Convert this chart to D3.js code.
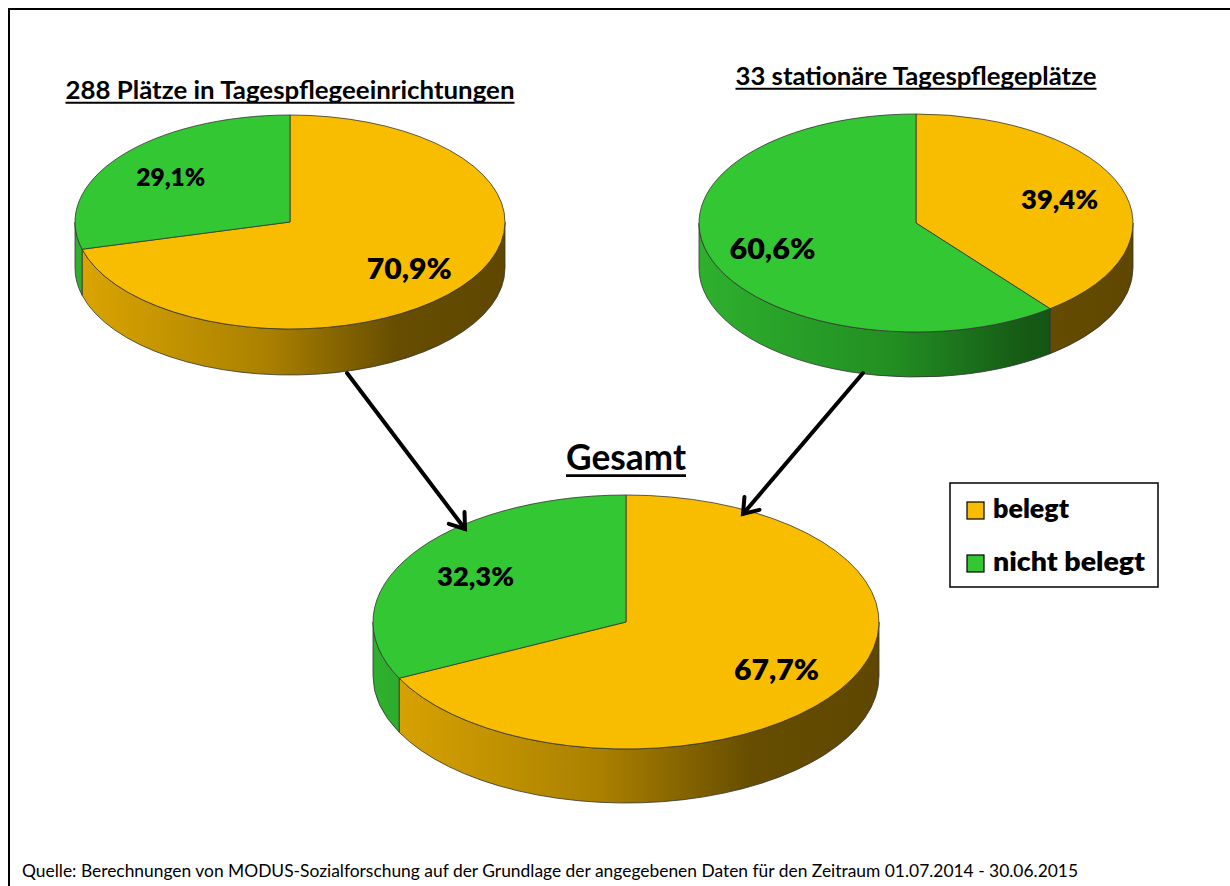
<!DOCTYPE html>
<html lang="de">
<head>
<meta charset="UTF-8">
<title>Belegung Tagespflege</title>
<script src="https://d3js.org/d3.v7.min.js"></script>
<style>
  body { margin: 0; background: #fff; }
  svg text { font-family: Lato, "Open Sans", sans-serif; fill: #000; }
</style>
</head>
<body>
<div id="chart"></div>
<script>
// --- data ---
const categories = ["belegt", "nicht belegt"];
const pieTitles = ["288 Plätze in Tagespflegeeinrichtungen", "33 stationäre Tagespflegeplätze", "Gesamt"];
const valuesEinrichtungen = [70.9, 29.1];
const valuesStationaer = [39.4, 60.6];
const valuesGesamt = [67.7, 32.3];
const sourceNote = "Quelle: Berechnungen von MODUS-Sozialforschung auf der Grundlage der angegebenen Daten für den Zeitraum 01.07.2014 - 30.06.2015";

// --- layout / style ---
const W = 1230, H = 886;
const topColor = { "belegt": "#F9BD00", "nicht belegt": "#33C733" };
const sideStops = {
    "belegt": ["#DCA600", "#AA8000", "#664D00", "#5F4700"],
    "nicht belegt": ["#2EB02E", "#228E22", "#165A16", "#114711"]
};
const pies = [
    { values: valuesEinrichtungen, title: pieTitles[0], cx: 290, cy: 222, rx: 215, ry: 107, depth: 46,
      titleY: 99, titleW: 449, titleSize: 25, labelW: [85, 69], labelSize: [29, 24] },
    { values: valuesStationaer, title: pieTitles[1], cx: 916, cy: 223, rx: 217, ry: 109, depth: 45,
      titleY: 85, titleW: 361, titleSize: 25, labelW: [77, 86], labelSize: [27, 28] },
    { values: valuesGesamt, title: pieTitles[2], cx: 626, cy: 622, rx: 253, ry: 127, depth: 54,
      titleY: 470, titleW: 120, titleSize: 37, labelW: [85, 77], labelSize: [29, 27] }
];
const arrows = [
    { from: [347, 373], to: [465, 529] },
    { from: [863, 373], to: [743, 514] }
];
const labelRadius = 0.7;

const svg = d3.select("#chart").append("svg")
    .attr("width", W).attr("height", H);
const defs = svg.append("defs");

// frame (only top/left edges are inside the picture)
svg.append("rect")
    .attr("x", 9).attr("y", 9).attr("width", 1400).attr("height", 1000)
    .attr("fill", "none").attr("stroke", "#000").attr("stroke-width", 2);

const pieGen = d3.pie().sort(null).value(d => d);
const fmt = v => d3.format(".1f")(v).replace(".", ",") + "%";

pies.forEach((p, pi) => {
    const g = svg.append("g");
    const pt = (a, dy = 0) => [p.cx + p.rx * Math.sin(a), p.cy - p.ry * Math.cos(a) + dy];

    // side gradients
    categories.forEach((c, ci) => {
        const grad = defs.append("linearGradient")
            .attr("id", `side-${pi}-${ci}`)
            .attr("gradientUnits", "userSpaceOnUse")
            .attr("x1", p.cx - p.rx).attr("x2", p.cx + p.rx)
            .attr("y1", 0).attr("y2", 0);
        [0, 0.45, 0.75, 1].forEach((o, k) => {
            grad.append("stop").attr("offset", o).attr("stop-color", sideStops[c][k]);
        });
    });

    const arcs = pieGen(p.values);

    // front sides
    arcs.forEach((d, ci) => {
        const s = Math.max(d.startAngle, Math.PI / 2);
        const e = Math.min(d.endAngle, 3 * Math.PI / 2);
        if (s >= e) return;
        const a = pt(s), b = pt(e), b2 = pt(e, p.depth), a2 = pt(s, p.depth);
        const large = (e - s) > Math.PI ? 1 : 0;
        const path = `M${a}A${p.rx},${p.ry} 0 ${large} 1 ${b}L${b2}A${p.rx},${p.ry} 0 ${large} 0 ${a2}Z`;
        g.append("path").attr("d", path)
            .attr("fill", `url(#side-${pi}-${ci})`)
            .attr("stroke", "#333").attr("stroke-width", 0.8)
            .attr("stroke-linejoin", "round");
    });

    // top faces
    arcs.forEach((d, ci) => {
        const a = pt(d.startAngle), b = pt(d.endAngle);
        const large = (d.endAngle - d.startAngle) > Math.PI ? 1 : 0;
        const path = `M${p.cx},${p.cy}L${a}A${p.rx},${p.ry} 0 ${large} 1 ${b}Z`;
        g.append("path").attr("d", path)
            .attr("fill", topColor[categories[ci]])
            .attr("stroke", "#333").attr("stroke-width", 0.8)
            .attr("stroke-linejoin", "round");
    });

    // value labels
    arcs.forEach((d, ci) => {
        const mid = (d.startAngle + d.endAngle) / 2;
        const x = p.cx + labelRadius * p.rx * Math.sin(mid);
        const y = p.cy - labelRadius * p.ry * Math.cos(mid);
        g.append("text")
            .attr("x", x).attr("y", y)
            .attr("text-anchor", "middle").attr("dominant-baseline", "central")
            .attr("font-weight", 800).attr("font-size", p.labelSize[ci])
            .attr("textLength", p.labelW[ci]).attr("lengthAdjust", "spacingAndGlyphs")
            .text(fmt(d.data));
    });

    // title + underline
    const fs = p.titleSize;
    svg.append("text")
        .attr("x", p.cx).attr("y", p.titleY)
        .attr("text-anchor", "middle")
        .attr("font-weight", "bold").attr("font-size", fs)
        .attr("textLength", p.titleW).attr("lengthAdjust", "spacingAndGlyphs")
        .text(p.title);
    svg.append("line")
        .attr("x1", p.cx - p.titleW / 2).attr("x2", p.cx + p.titleW / 2)
        .attr("y1", p.titleY + fs * 0.15).attr("y2", p.titleY + fs * 0.15)
        .attr("stroke", "#000").attr("stroke-width", fs * 0.075);
});

// arrows
arrows.forEach(a => {
    const [x1, y1] = a.from, [x2, y2] = a.to;
    const ang = Math.atan2(y2 - y1, x2 - x1);
    const len = 17, spread = 0.62;
    svg.append("line")
        .attr("x1", x1).attr("y1", y1).attr("x2", x2).attr("y2", y2)
        .attr("stroke", "#000").attr("stroke-width", 4).attr("stroke-linecap", "round");
    const h1 = [x2 - len * Math.cos(ang - spread), y2 - len * Math.sin(ang - spread)];
    const h2 = [x2 - len * Math.cos(ang + spread), y2 - len * Math.sin(ang + spread)];
    svg.append("path")
        .attr("d", `M${h1}L${x2},${y2}L${h2}`)
        .attr("fill", "none").attr("stroke", "#000").attr("stroke-width", 4)
        .attr("stroke-linecap", "round").attr("stroke-linejoin", "miter");
});

// legend
const legend = svg.append("g");
legend.append("rect")
    .attr("x", 950).attr("y", 483).attr("width", 208).attr("height", 104)
    .attr("fill", "#fff").attr("stroke", "#000").attr("stroke-width", 1.5);
const legendW = [76, 152];
categories.forEach((c, i) => {
    const y0 = 502 + i * 53;
    legend.append("rect")
        .attr("x", 967).attr("y", y0).attr("width", 17).attr("height", 17)
        .attr("fill", topColor[c]).attr("stroke", "#000").attr("stroke-width", 1.2);
    legend.append("text")
        .attr("x", 993).attr("y", y0 + 16)
        .attr("font-weight", 800).attr("font-size", 27)
        .attr("textLength", legendW[i]).attr("lengthAdjust", "spacingAndGlyphs")
        .text(c);
});

// source note
svg.append("text")
    .attr("x", 22).attr("y", 877)
    .attr("font-size", 17)
    .attr("textLength", 1056).attr("lengthAdjust", "spacingAndGlyphs")
    .text(sourceNote);
</script>
</body>
</html>
